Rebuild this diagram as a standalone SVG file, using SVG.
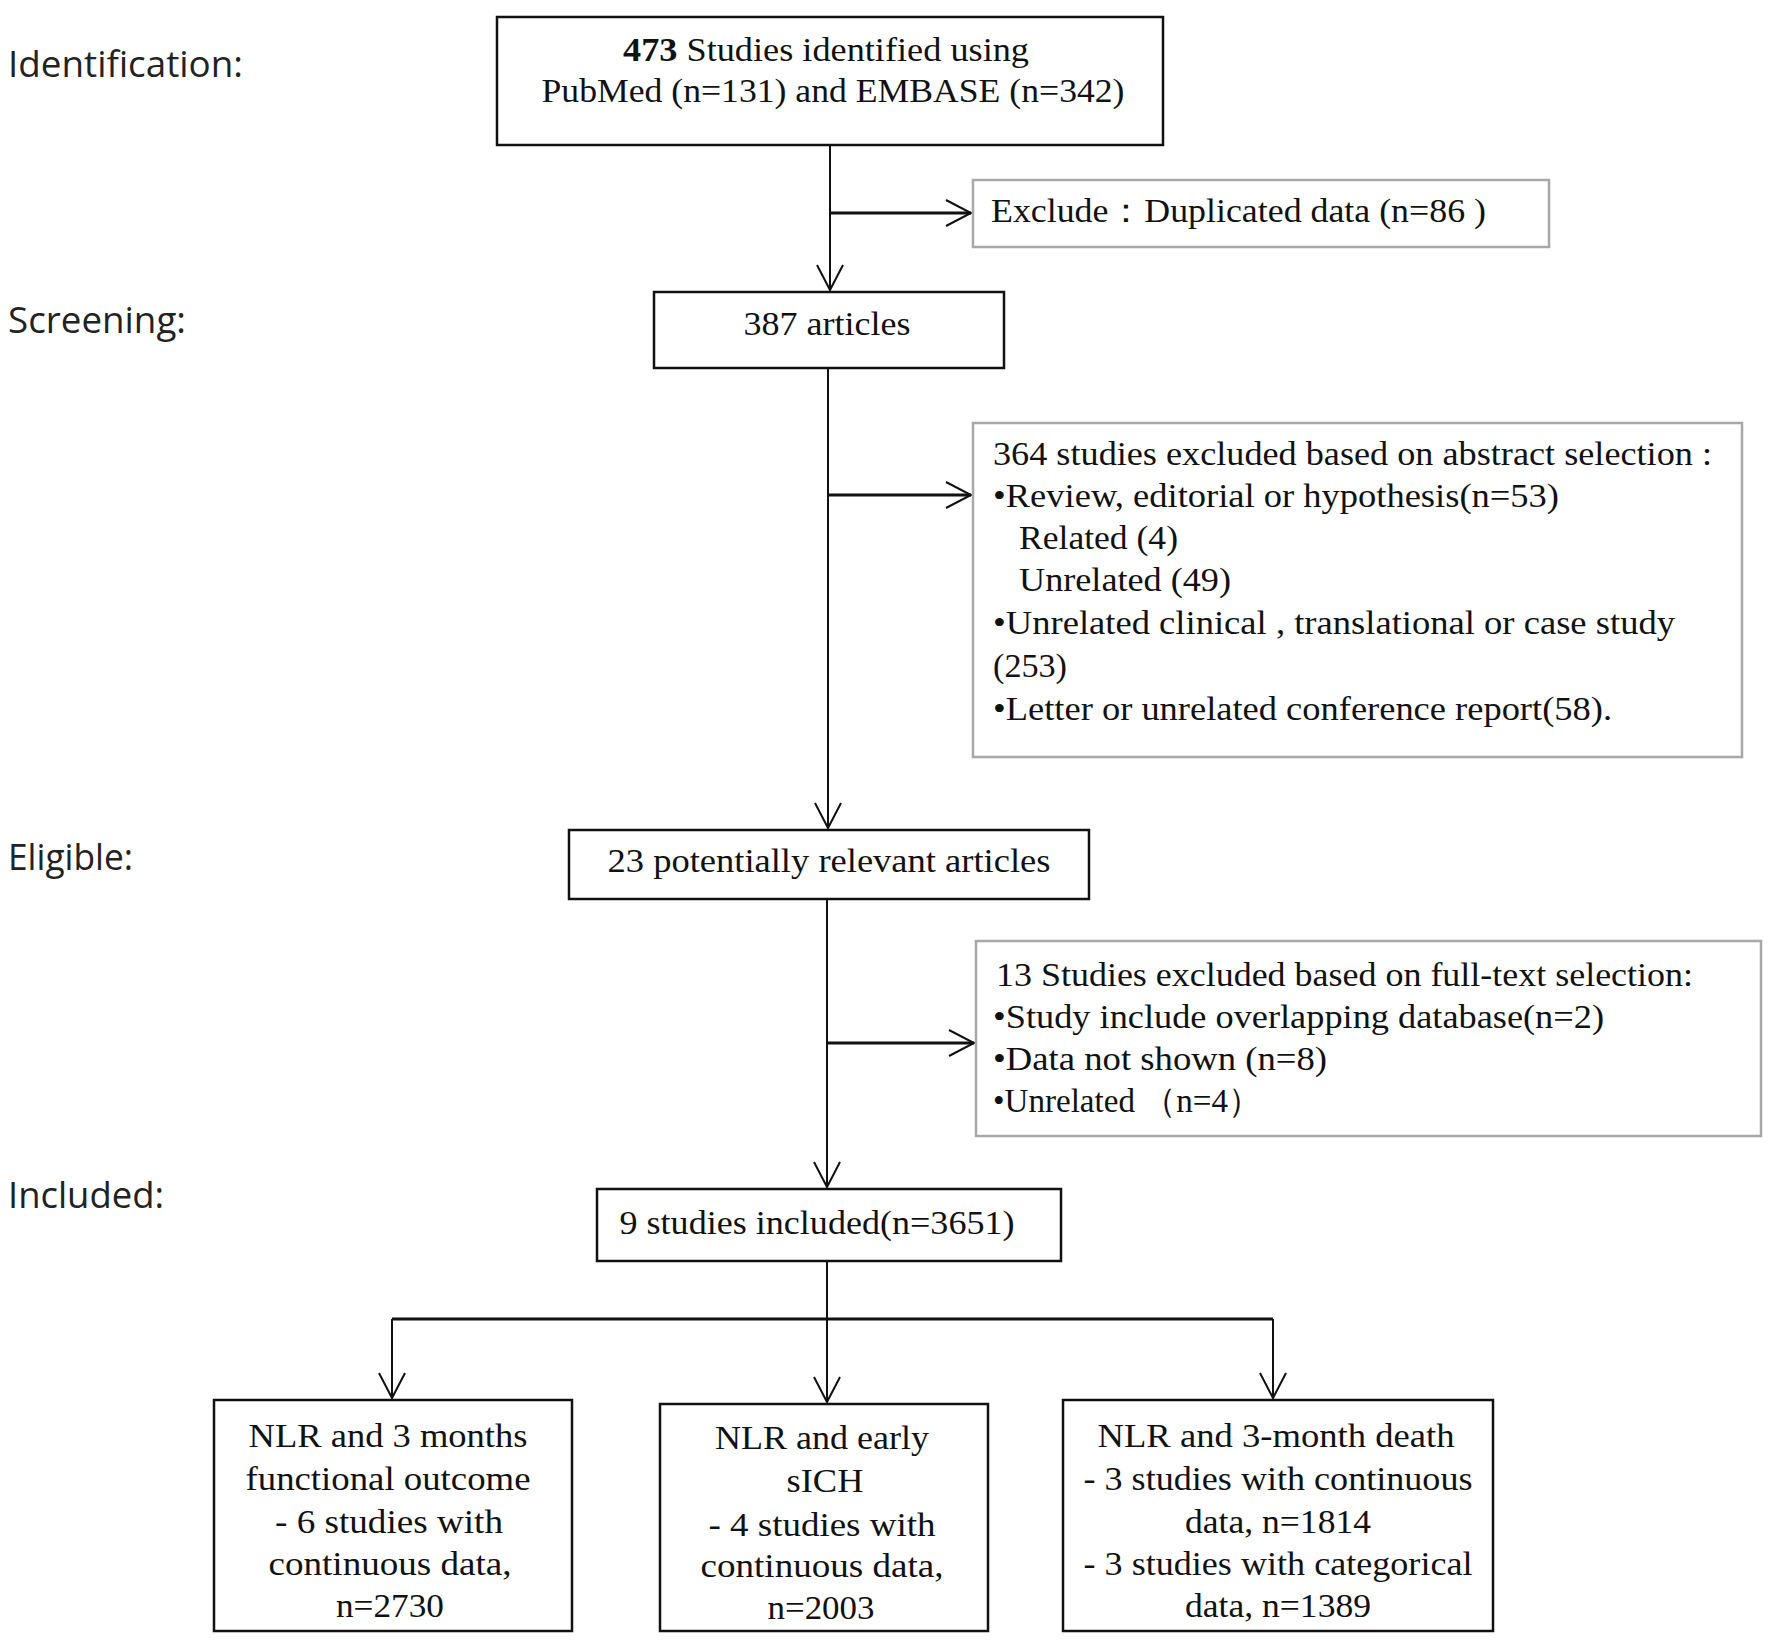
<svg xmlns="http://www.w3.org/2000/svg" width="1770" height="1643" viewBox="0 0 1770 1643">
<style>
.t{font-family:"Liberation Serif","Times New Roman",serif;font-size:34px;fill:#111}
.c{text-anchor:middle}
.lab{font-family:"Open Sans","Noto Sans","Liberation Sans",sans-serif;font-size:36px;fill:#222}
.box{fill:#fff;stroke:#111;stroke-width:2.5}
.gbox{fill:#fff;stroke:#a8a8a8;stroke-width:2.5}
.ln{fill:none;stroke:#111;stroke-width:2}
.hl{fill:none;stroke:#111;stroke-width:3}
</style>
<defs>
<marker id="ah" markerUnits="userSpaceOnUse" markerWidth="30" markerHeight="30" viewBox="-26 -15 30 30" refX="0" refY="0" orient="auto">
<path d="M-25,-13 L0,0 L-25,13" fill="none" stroke="#111" stroke-width="2"/>
</marker>
</defs>
<rect width="1770" height="1643" fill="#fff"/>

<g id="labels">
<text class="lab" x="8" y="77" textLength="235" lengthAdjust="spacingAndGlyphs">Identification:</text>
<text class="lab" x="8" y="333" textLength="178" lengthAdjust="spacingAndGlyphs">Screening:</text>
<text class="lab" x="8" y="870" textLength="125" lengthAdjust="spacingAndGlyphs">Eligible:</text>
<text class="lab" x="8" y="1208" textLength="156" lengthAdjust="spacingAndGlyphs">Included:</text>
</g>

<g id="connectors">
<path class="ln" d="M830,145 V290" marker-end="url(#ah)"/>
<path class="hl" d="M830,213 H971" marker-end="url(#ah)"/>
<path class="ln" d="M828,368 V828" marker-end="url(#ah)"/>
<path class="hl" d="M828,495 H971" marker-end="url(#ah)"/>
<path class="ln" d="M827,899 V1187" marker-end="url(#ah)"/>
<path class="hl" d="M827,1043 H974" marker-end="url(#ah)"/>
<path class="ln" d="M827,1261 V1402" marker-end="url(#ah)"/>
<path class="hl" d="M392,1319 H1273"/>
<path class="ln" d="M392,1319 V1398" marker-end="url(#ah)"/>
<path class="ln" d="M1273,1319 V1398" marker-end="url(#ah)"/>
</g>

<g id="n-identified">
<rect class="box" x="497" y="17" width="666" height="128"/>
<text class="t c" x="826" y="61" textLength="406" lengthAdjust="spacingAndGlyphs"><tspan font-weight="bold">473</tspan> Studies identified using</text>
<text class="t c" x="833" y="102" textLength="583" lengthAdjust="spacingAndGlyphs">PubMed (n=131) and EMBASE (n=342)</text>
</g>

<g id="n-exclude-dup">
<rect class="gbox" x="973" y="180" width="576" height="67"/>
<text class="t" x="991" y="222" textLength="495" lengthAdjust="spacingAndGlyphs">Exclude：Duplicated data (n=86 )</text>
</g>

<g id="n-387">
<rect class="box" x="654" y="292" width="350" height="76"/>
<text class="t c" x="827" y="335" textLength="167" lengthAdjust="spacingAndGlyphs">387 articles</text>
</g>

<g id="n-exclude-abstract">
<rect class="gbox" x="973" y="423" width="769" height="334"/>
<text class="t" x="993" y="465" textLength="719" lengthAdjust="spacingAndGlyphs">364 studies excluded based on abstract selection :</text>
<text class="t" x="993" y="507" textLength="566" lengthAdjust="spacingAndGlyphs">•Review, editorial or hypothesis(n=53)</text>
<text class="t" x="1019" y="549" textLength="159" lengthAdjust="spacingAndGlyphs">Related (4)</text>
<text class="t" x="1019" y="591" textLength="212" lengthAdjust="spacingAndGlyphs">Unrelated (49)</text>
<text class="t" x="993" y="634" textLength="682" lengthAdjust="spacingAndGlyphs">•Unrelated clinical , translational or case study</text>
<text class="t" x="993" y="677" textLength="74" lengthAdjust="spacingAndGlyphs">(253)</text>
<text class="t" x="993" y="720" textLength="619" lengthAdjust="spacingAndGlyphs">•Letter or unrelated conference report(58).</text>
</g>

<g id="n-23">
<rect class="box" x="569" y="830" width="520" height="69"/>
<text class="t c" x="829" y="872" textLength="443" lengthAdjust="spacingAndGlyphs">23 potentially relevant articles</text>
</g>

<g id="n-exclude-fulltext">
<rect class="gbox" x="976" y="941" width="785" height="195"/>
<text class="t" x="996" y="986" textLength="697" lengthAdjust="spacingAndGlyphs">13 Studies excluded based on full-text selection:</text>
<text class="t" x="993" y="1028" textLength="611" lengthAdjust="spacingAndGlyphs">•Study include overlapping database(n=2)</text>
<text class="t" x="993" y="1070" textLength="334" lengthAdjust="spacingAndGlyphs">•Data not shown (n=8)</text>
<text class="t" x="993" y="1112" textLength="268" lengthAdjust="spacingAndGlyphs">•Unrelated （n=4）</text>
</g>

<g id="n-included">
<rect class="box" x="597" y="1189" width="464" height="72"/>
<text class="t c" x="817" y="1234" textLength="395" lengthAdjust="spacingAndGlyphs">9 studies included(n=3651)</text>
</g>

<g id="n-functional">
<rect class="box" x="214" y="1400" width="358" height="231"/>
<text class="t c" x="388" y="1447" textLength="279" lengthAdjust="spacingAndGlyphs">NLR and 3 months</text>
<text class="t c" x="388" y="1490" textLength="285" lengthAdjust="spacingAndGlyphs">functional outcome</text>
<text class="t c" x="389" y="1533" textLength="228" lengthAdjust="spacingAndGlyphs">- 6 studies with</text>
<text class="t c" x="390" y="1575" textLength="243" lengthAdjust="spacingAndGlyphs">continuous data,</text>
<text class="t c" x="390" y="1617" textLength="108" lengthAdjust="spacingAndGlyphs">n=2730</text>
</g>

<g id="n-sich">
<rect class="box" x="660" y="1404" width="328" height="227"/>
<text class="t c" x="822" y="1449" textLength="214" lengthAdjust="spacingAndGlyphs">NLR and early</text>
<text class="t c" x="825" y="1492" textLength="77" lengthAdjust="spacingAndGlyphs">sICH</text>
<text class="t c" x="822" y="1536" textLength="227" lengthAdjust="spacingAndGlyphs">- 4 studies with</text>
<text class="t c" x="822" y="1577" textLength="243" lengthAdjust="spacingAndGlyphs">continuous data,</text>
<text class="t c" x="821" y="1619" textLength="107" lengthAdjust="spacingAndGlyphs">n=2003</text>
</g>

<g id="n-death">
<rect class="box" x="1063" y="1400" width="430" height="231"/>
<text class="t c" x="1276" y="1447" textLength="357" lengthAdjust="spacingAndGlyphs">NLR and 3-month death</text>
<text class="t c" x="1278" y="1490" textLength="389" lengthAdjust="spacingAndGlyphs">- 3 studies with continuous</text>
<text class="t c" x="1278" y="1533" textLength="186" lengthAdjust="spacingAndGlyphs">data, n=1814</text>
<text class="t c" x="1278" y="1575" textLength="389" lengthAdjust="spacingAndGlyphs">- 3 studies with categorical</text>
<text class="t c" x="1278" y="1617" textLength="186" lengthAdjust="spacingAndGlyphs">data, n=1389</text>
</g>
</svg>
